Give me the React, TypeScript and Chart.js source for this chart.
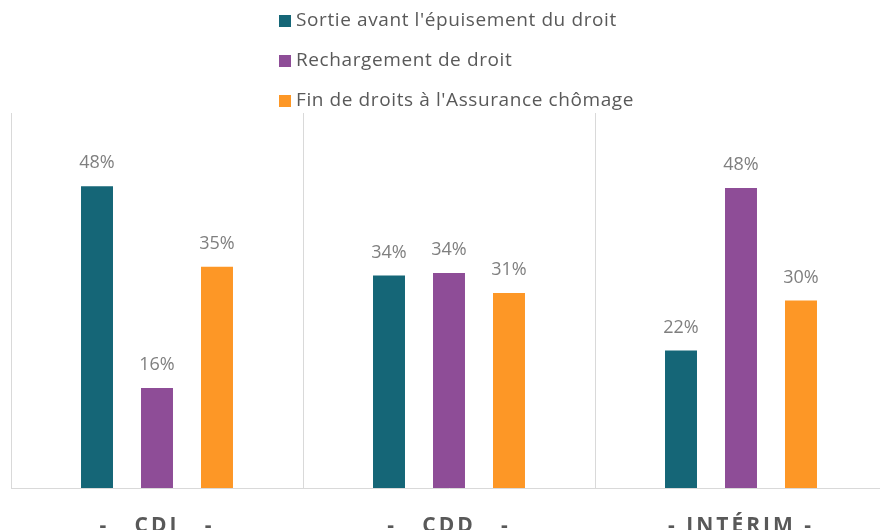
import React, { useEffect, useRef } from "react";
import { Chart, registerables } from "chart.js";

Chart.register(...registerables);

const categories = ["CDI", "CDD", "INTÉRIM"];
const tickLabels = ["-   CDI   -", "-   CDD   -", "- INTÉRIM -"];
const seriesNames = [
  "Sortie avant l'épuisement du droit",
  "Rechargement de droit",
  "Fin de droits à l'Assurance chômage",
];
const sortieValues = [48.3, 34, 22];
const rechargementValues = [16, 34.4, 48];
const finDroitsValues = [35.4, 31.2, 30];
const colors = ["#156677", "#8e4d97", "#fd9726"];

const W = 900;
const H = 545;

const labelsPlugin = {
  id: "valueLabels",
  beforeDraw(chart: any) {
    chart.ctx.letterSpacing = "3px";
  },
  beforeDatasetsDraw(chart: any) {
    chart.ctx.letterSpacing = "0px";
  },
  afterDatasetsDraw(chart: any) {
    const ctx = chart.ctx;
    ctx.save();
    ctx.letterSpacing = "0px";
    ctx.font = "18px 'Open Sans'";
    ctx.fillStyle = "#7f7f7f";
    ctx.textAlign = "center";
    ctx.textBaseline = "middle";
    chart.data.datasets.forEach((ds: any, i: number) => {
      const meta = chart.getDatasetMeta(i);
      meta.data.forEach((el: any, j: number) => {
        const v = ds.data[j];
        ctx.fillText(Math.round(v) + "%", el.x, el.y - 23);
      });
    });
    ctx.restore();
  },
  afterDraw(chart: any) {
    const ctx = chart.ctx;
    ctx.save();
    ctx.letterSpacing = "0.6px";
    ctx.font = "19px 'Open Sans'";
    ctx.textAlign = "left";
    ctx.textBaseline = "middle";
    chart.data.datasets.forEach((ds: any, i: number) => {
      const cy = 21 + 40 * i;
      ctx.fillStyle = ds.backgroundColor;
      ctx.fillRect(279, cy - 6, 12, 12);
      ctx.fillStyle = "#595959";
      ctx.fillText(ds.label, 296, cy);
    });
    ctx.restore();
  },
};

export default function App() {
  const ref = useRef<HTMLCanvasElement | null>(null);
  useEffect(() => {
    if (!ref.current) return;
    const chart = new Chart(ref.current, {
      type: "bar",
      data: {
        labels: categories,
        datasets: [sortieValues, rechargementValues, finDroitsValues].map((d, i) => ({
          label: seriesNames[i],
          data: d,
          backgroundColor: colors[i],
          borderWidth: 0,
          categoryPercentage: 0.6164,
          barPercentage: 0.533,
        })),
      },
      options: {
        responsive: false,
        animation: false,
        devicePixelRatio: 1,
        layout: { padding: { left: 11, top: 113, right: 13, bottom: 0 } },
        plugins: { legend: { display: false }, tooltip: { enabled: false } },
        scales: {
          x: {
            afterFit: (s: any) => {
              s.height = H - 488;
            },
            grid: { offset: true, color: "#d9d9d9", drawTicks: false, lineWidth: 1 },
            border: { color: "#d9d9d9" },
            ticks: {
              padding: 25,
              color: "#595959",
              font: { family: "'Open Sans'", size: 21, weight: "bold" },
              callback: (_v: any, i: number) => tickLabels[i],
            },
          },
          y: { display: false, min: 0, max: 60 },
        },
      },
      plugins: [labelsPlugin],
    });
    return () => chart.destroy();
  }, []);
  return (
    <div
      style={{
        position: "fixed",
        left: 0,
        top: 0,
        width: 880,
        height: 530,
        overflow: "hidden",
        background: "#fff",
      }}
    >
      <canvas ref={ref} width={W} height={H} style={{ display: "block", width: W, height: H }} />
    </div>
  );
}
